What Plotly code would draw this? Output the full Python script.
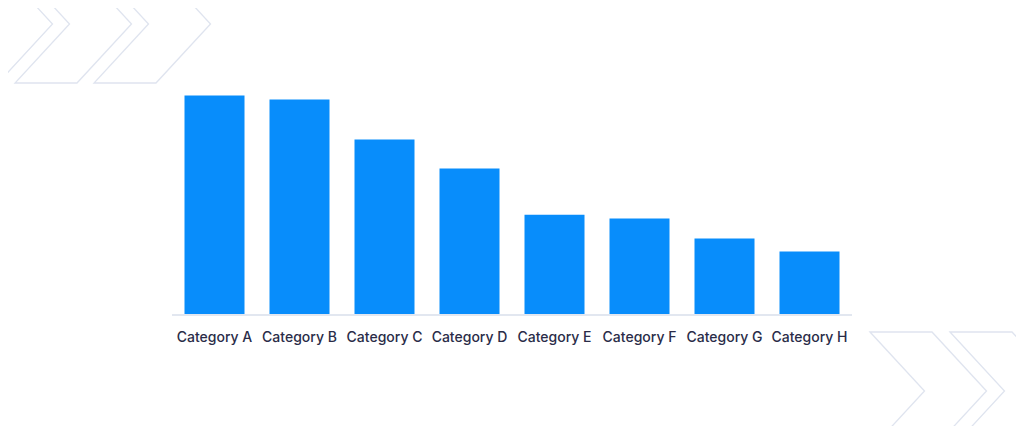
import plotly.graph_objects as go

categories = ["Category A", "Category B", "Category C", "Category D",
              "Category E", "Category F", "Category G", "Category H"]
values = [100.0, 98.2, 79.9, 66.6, 45.4, 43.7, 34.6, 28.6]

W, H = 1024, 426
OFF = 8  # page offset of the figure inside the browser window
L_M, R_M, T_M, B_M = 172 - OFF, 172 + OFF, 80 - OFF, 112 + OFF
PW = W - L_M - R_M
PH = H - T_M - B_M

BAR_COLOR = "#088dfb"
DECO_COLOR = "#dfe4ef"
TEXT_COLOR = "#2a2c48"


def px_to_paper(x, y):
    x -= OFF
    y -= OFF
    return (x - L_M) / PW, (H - B_M - y) / PH


def chevron_path(left, top, tip_dx=54.5, half_h=59, thick=62):
    pts = [
        (left, top),
        (left + tip_dx, top + half_h),
        (left, top + 2 * half_h),
        (left + thick, top + 2 * half_h),
        (left + thick + tip_dx, top + half_h),
        (left + thick, top),
    ]
    conv = [px_to_paper(x, y) for x, y in pts]
    d = "M " + " L ".join(f"{a:.5f},{b:.5f}" for a, b in conv) + " Z"
    return d


chevrons = [(-64, -35), (15, -35), (94, -35), (870, 332), (950, 332)]

shapes = [
    dict(type="path", path=chevron_path(lft, tp), xref="paper", yref="paper",
         line=dict(color=DECO_COLOR, width=1.3), fillcolor="rgba(0,0,0,0)",
         layer="below")
    for lft, tp in chevrons
]

fig = go.Figure(
    go.Bar(
        x=categories,
        y=values,
        marker=dict(color=BAR_COLOR, line=dict(width=0)),
        hoverinfo="x+y",
    )
)

fig.update_layout(
    width=W,
    height=H,
    margin=dict(l=L_M, r=R_M, t=T_M, b=B_M, pad=0),
    paper_bgcolor="white",
    plot_bgcolor="white",
    bargap=0.294,
    showlegend=False,
    shapes=shapes,
    font=dict(family="Inter, Noto Sans, sans-serif", size=13, color=TEXT_COLOR),
    xaxis=dict(
        showline=True,
        linecolor="#e2e7f0",
        linewidth=2,
        showgrid=False,
        zeroline=False,
        ticks="",
        tickfont=dict(family="Inter", size=14, color=TEXT_COLOR, weight=500),
        ticklabelstandoff=9,
    ),
    yaxis=dict(
        range=[0, 107.1],
        visible=False,
        showgrid=False,
        zeroline=False,
    ),
)

fig.write_html("out.html")
